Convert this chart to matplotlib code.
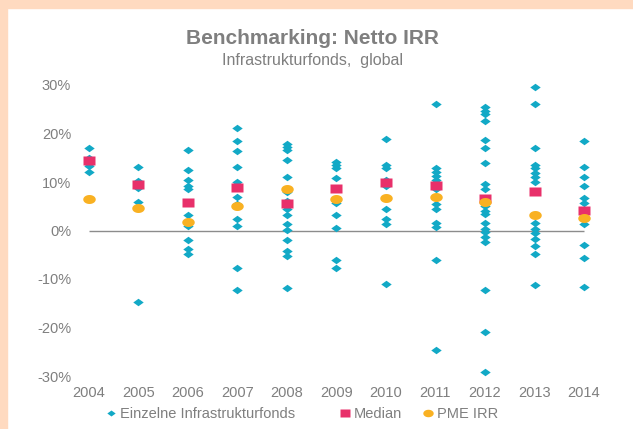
import matplotlib
matplotlib.use("Agg")
import matplotlib.pyplot as plt
from matplotlib.path import Path
from matplotlib.patches import Rectangle
from matplotlib.lines import Line2D
import numpy as np

years = [2004, 2005, 2006, 2007, 2008, 2009, 2010, 2011, 2012, 2013, 2014]

f2004 = [17.0, 15.0, 13.8, 13.2, 12.0]
f2005 = [13.0, 10.2, 8.8, 5.8, -14.8]
f2006 = [16.5, 12.4, 10.5, 9.2, 8.6, 3.2, 2.0, 1.0, -1.9, -3.8, -4.8]
f2007 = [21.2, 18.5, 16.3, 13.0, 10.0, 9.4, 6.9, 5.4, 2.3, 1.0, -7.8, -12.2]
f2008 = [17.9, 17.2, 16.5, 14.6, 11.1, 8.0, 6.0, 4.5, 3.2, 1.4, 0.2, -1.9, -4.3, -5.3, -11.9]
f2009 = [14.1, 13.5, 12.8, 10.9, 6.0, 5.6, 3.2, 0.5, -6.1, -7.7]
f2010 = [18.9, 13.6, 12.8, 10.5, 9.2, 4.4, 2.3, 1.4, -11.1]
f2011 = [26.0, 12.8, 12.1, 11.3, 10.5, 8.5, 5.4, 4.5, 1.5, 0.75, -6.1, -24.7]
f2012 = [25.4, 24.7, 24.0, 22.5, 18.6, 17.1, 13.9, 9.5, 8.5, 6.5, 5.1, 4.0, 3.3,
         1.5, 0.4, -0.4, -1.3, -2.3, -12.3, -20.9, -29.2]
f2013 = [29.6, 26.0, 17.0, 13.6, 12.8, 11.9, 11.1, 10.1, 1.5, 0.4, -0.5, -1.8,
         -3.1, -4.9, -11.2]
f2014 = [18.5, 13.0, 11.0, 9.2, 6.6, 5.7, 3.5, 1.3, -3.0, -5.6, -11.6]
fonds = [f2004, f2005, f2006, f2007, f2008, f2009, f2010, f2011, f2012, f2013, f2014]

median = [14.5, 9.6, 5.9, 8.9, 5.7, 8.7, 10.0, 9.4, 6.6, 8.1, 4.3]
pme = [6.4, 4.6, 1.8, 5.0, 8.5, 6.4, 6.6, 7.0, 5.8, 3.1, 2.6]

yticks = [-30, -20, -10, 0, 10, 20, 30]

teal = "#12A9C6"
pink = "#E8306A"
orange = "#F9B122"
grey = "#7F7F7F"

plt.rcParams['font.family'] = ['Liberation Sans', 'DejaVu Sans']

# wide markers
diamond = Path([(-1, 0), (0, 0.72), (1, 0), (0, -0.72), (-1, 0)],
               [Path.MOVETO, Path.LINETO, Path.LINETO, Path.LINETO, Path.CLOSEPOLY])
rect = Path([(-1, -0.72), (1, -0.72), (1, 0.72), (-1, 0.72), (-1, -0.72)],
            [Path.MOVETO, Path.LINETO, Path.LINETO, Path.LINETO, Path.CLOSEPOLY])
t = np.linspace(0, 2 * np.pi, 41)
ellipse = Path(np.column_stack([np.cos(t), 0.72 * np.sin(t)]))

W, H = 633, 429
fig = plt.figure(figsize=(W / 100, H / 100), dpi=100)
fig.patch.set_facecolor("white")

# peach frame
fig.patches.append(Rectangle((0, 0), 7 / W, 1, transform=fig.transFigure,
                             color="#FFDAC0", zorder=0))
fig.patches.append(Rectangle((0, 1 - 8 / H), 1, 8 / H, transform=fig.transFigure,
                             color="#FFDAC0", zorder=0))

left_px, right_px = 78, 600
top_px, bot_px = 85, 376
ax = fig.add_axes([left_px / W, (H - bot_px) / H, (right_px - left_px) / W,
                   (bot_px - top_px) / H])
ppy = (584 - 89) / 10.0
ax.set_xlim(2004 - (89 - left_px) / ppy, 2014 + (right_px - 584) / ppy)
ax.set_ylim(-30, 30)
for s in ax.spines.values():
    s.set_visible(False)

ax.hlines(0, years[0], years[-1], color="#8C8C8C", lw=1.0, zorder=1)

for yr, vals in zip(years, fonds):
    ax.plot([yr] * len(vals), vals, linestyle="none", marker=diamond, ms=7.5,
            color=teal, mec="none", zorder=2, clip_on=False)
ax.plot(years, median, linestyle="none", marker=rect, ms=9, color=pink,
        mec="none", zorder=3, clip_on=False)
ax.plot(years, pme, linestyle="none", marker=ellipse, ms=9, color=orange,
        mec="none", zorder=4, clip_on=False)

ax.set_yticks(yticks)
ax.set_yticklabels([f"{v}%" for v in yticks])
ax.set_xticks(years)
ax.set_xticklabels([str(y) for y in years])
ax.tick_params(axis="both", length=0, labelsize=10.5, colors=grey)
ax.tick_params(axis="x", pad=7)
ax.tick_params(axis="y", pad=5)

fig.text(312 / W, 1 - 38 / H, "Benchmarking: Netto IRR", ha="center", va="center",
         fontsize=15, fontweight="bold", color=grey)
fig.text(312 / W, 1 - 60 / H, "Infrastrukturfonds,  global", ha="center",
         va="center", fontsize=11.5, color=grey)

handles = [
    Line2D([], [], linestyle="none", marker=diamond, ms=6, color=teal, mec="none"),
    Line2D([], [], linestyle="none", marker=rect, ms=7.5, color=pink, mec="none"),
    Line2D([], [], linestyle="none", marker=ellipse, ms=7.5, color=orange, mec="none"),
]
labels = ["Einzelne Infrastrukturfonds", "Median", "PME IRR"]
leg_x = [105, 339, 422]
for h, lab, lx in zip(handles, labels, leg_x):
    leg = fig.legend([h], [lab], loc="center left",
                     bbox_to_anchor=(lx / W, 1 - 414 / H), frameon=False,
                     fontsize=10.5, handlelength=0.8, handletextpad=0.2,
                     borderaxespad=0, borderpad=0)
    for txt in leg.get_texts():
        txt.set_color(grey)

fig.savefig("out.png", dpi=100, facecolor="white")
